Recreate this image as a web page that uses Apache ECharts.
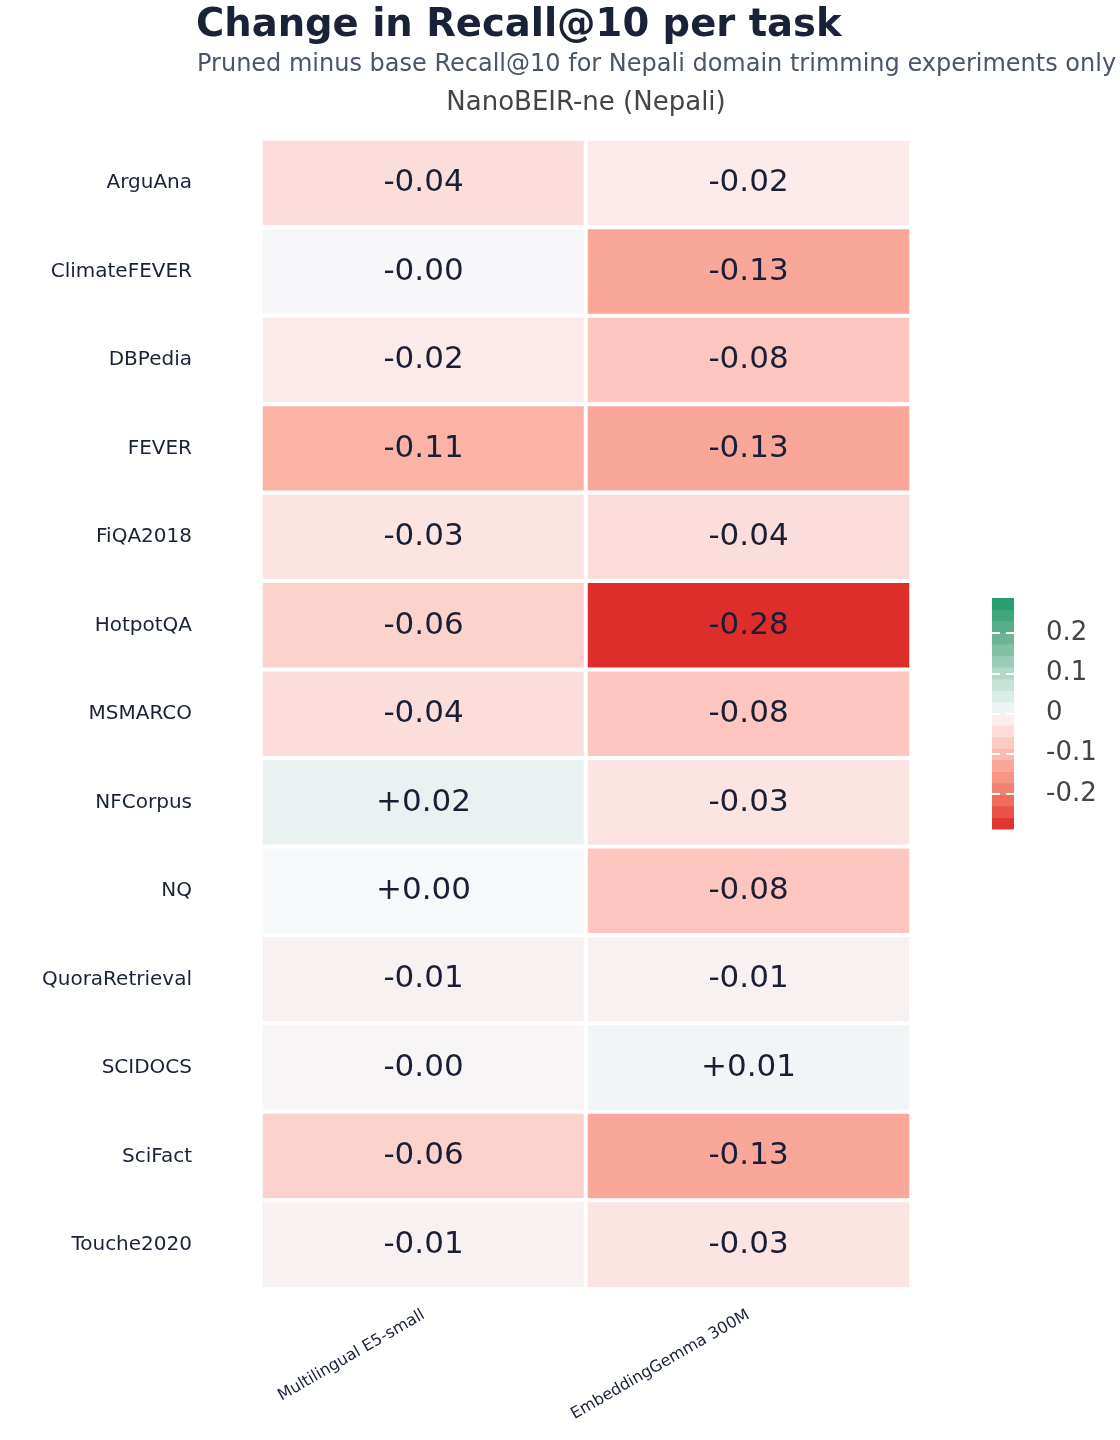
<!DOCTYPE html>
<html>
<head>
<meta charset="utf-8">
<title>Change in Recall@10 per task</title>
<script src="https://cdn.jsdelivr.net/npm/echarts@6/dist/echarts.min.js"></script>
<style>
    html, body { margin: 0; padding: 0; background: #fff; }
    #main { width: 1120px; height: 1440px; }
</style>
</head>
<body>
<div id="main"></div>
<script>
var tasks = ['ArguAna', 'ClimateFEVER', 'DBPedia', 'FEVER', 'FiQA2018', 'HotpotQA', 'MSMARCO',
    'NFCorpus', 'NQ', 'QuoraRetrieval', 'SCIDOCS', 'SciFact', 'Touche2020'];
var models = ['Multilingual E5-small', 'EmbeddingGemma 300M'];
// pruned minus base Recall@10
var e5Delta = [-0.04, -0.003, -0.02, -0.11, -0.03, -0.06, -0.04, 0.02, 0.001, -0.01, -0.004, -0.06, -0.01];
var gemmaDelta = [-0.02, -0.13, -0.08, -0.13, -0.04, -0.28, -0.08, -0.03, -0.08, -0.01, 0.01, -0.13, -0.03];
var cbTicks = [-0.2, -0.1, 0, 0.1, 0.2];

var cMax = 0.2875;
// red -> near white -> green
var colorScale = ['#dc2626', '#e44639', '#ec604e', '#f17666', '#f58b7a', '#f89e8e', '#fbb0a2',
    '#fdc2b9', '#fcd4ce', '#fbe5e3', '#f7f8fa', '#e5efed', '#d2e7df', '#bdded0', '#a6d3c0',
    '#8fc7ae', '#77bb9b', '#62b18e', '#4ea983', '#34a176', '#1b9b6b'];

var font = 'DejaVu Sans';
var myChart = echarts.init(document.getElementById('main'));

var heatData = [];
for (var i = 0; i < tasks.length; i++) {
    heatData.push([0, i, e5Delta[i]]);
    heatData.push([1, i, gemmaDelta[i]]);
}

// colorbar bands
var bandData = [];
var nb = 10, step = cMax / nb;
for (var k = -nb; k < nb; k++) {
    var lo = k * step, hi = (k + 1) * step;
    bandData.push([0, lo, (lo + hi) / 2, hi]);
}

function fmt(v) {
    return (v >= 0 ? '+' : '-') + Math.abs(v).toFixed(2);
}

var option = {
    backgroundColor: '#fff',
    animation: false,
    title: [
        {
            text: 'Change in Recall@10 per task',
            left: 191, top: 1,
            textStyle: { fontFamily: font, fontSize: 38.5, fontWeight: 'bold', color: '#1a2238' }
        },
        {
            text: 'Pruned minus base Recall@10 for Nepali domain trimming experiments only',
            left: 192, top: 48,
            textStyle: { fontFamily: font, fontSize: 24, fontWeight: 'normal', color: '#4a5568' }
        },
        {
            text: 'NanoBEIR-ne (Nepali)',
            left: 581, top: 85, textAlign: 'center',
            textStyle: { fontFamily: font, fontSize: 26, fontWeight: 'normal', color: '#444' }
        }
    ],
    grid: [
        { left: 261, right: 209, top: 139, bottom: 151 },
        { left: 992, width: 22, top: 598, height: 231 }
    ],
    xAxis: [
        {
            type: 'category', data: models, gridIndex: 0, position: 'bottom',
            axisLine: { show: false }, axisTick: { show: false }, splitLine: { show: false },
            axisLabel: { rotate: 30, margin: 25, fontFamily: font, fontSize: 16, color: '#1a2238' }
        },
        {
            type: 'category', data: ['cb'], gridIndex: 1, show: false
        }
    ],
    yAxis: [
        {
            type: 'category', data: tasks, gridIndex: 0, inverse: true,
            axisLine: { show: false }, axisTick: { show: false }, splitLine: { show: false },
            axisLabel: { margin: 69, fontFamily: font, fontSize: 20, color: '#1a2238' }
        },
        {
            type: 'value', gridIndex: 1, position: 'right', min: -cMax, max: cMax, z: 5,
            axisLine: { show: false }, splitLine: { show: false },
            axisTick: { show: true, inside: true, length: 8, customValues: cbTicks,
                lineStyle: { color: '#fff', width: 2 } },
            axisLabel: { customValues: cbTicks, margin: 32, fontFamily: font, fontSize: 26, color: '#444',
                formatter: function (v) { return v === 0 ? '0' : String(v); } }
        },
        {
            type: 'value', gridIndex: 1, position: 'left', min: -cMax, max: cMax, z: 5,
            axisLine: { show: false }, splitLine: { show: false }, axisLabel: { show: false },
            axisTick: { show: true, inside: true, length: 8, customValues: cbTicks,
                lineStyle: { color: '#fff', width: 2 } }
        }
    ],
    visualMap: {
        type: 'continuous', show: false, min: -cMax, max: cMax, dimension: 2,
        seriesIndex: [0, 1], inRange: { color: colorScale }
    },
    series: [
        {
            type: 'heatmap', xAxisIndex: 0, yAxisIndex: 0, data: heatData,
            itemStyle: { borderColor: '#fff', borderWidth: 4 },
            label: {
                show: true, fontFamily: font, fontSize: 31, color: '#1a1f36',
                formatter: function (p) { return fmt(p.value[2]); }
            },
            emphasis: { disabled: true }
        },
        {
            type: 'custom', xAxisIndex: 1, yAxisIndex: 1, data: bandData,
            encode: { x: 0, y: [1, 3] },
            renderItem: function (params, api) {
                var top = api.coord([0, api.value(3)]);
                var bot = api.coord([0, api.value(1)]);
                var w = api.size([1, 0])[0];
                return {
                    type: 'rect',
                    shape: { x: top[0] - w / 2, y: top[1], width: w, height: bot[1] - top[1] + 0.5 },
                    style: { fill: api.visual('color') }
                };
            }
        }
    ]
};

myChart.setOption(option);
</script>
</body>
</html>
